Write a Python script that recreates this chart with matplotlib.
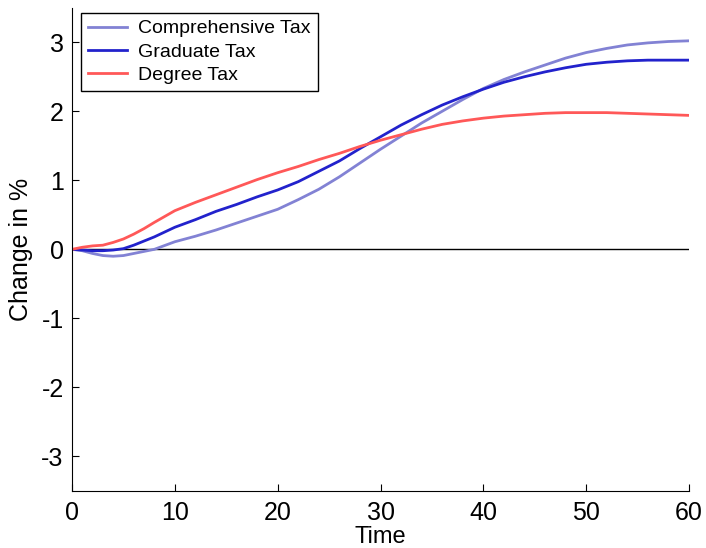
import matplotlib
matplotlib.use('Agg')
import matplotlib.pyplot as plt

plt.rcParams['font.family'] = ['Liberation Sans', 'DejaVu Sans']
plt.rcParams['axes.unicode_minus'] = False

# time axis and the three series (change in %)
t = [0, 1, 2, 3, 4, 5, 6, 7, 8, 10, 12, 14, 16, 18, 20, 22, 24, 26, 28, 30,
     32, 34, 36, 38, 40, 42, 44, 46, 48, 50, 52, 54, 56, 58, 60]

comprehensive = [0.0, -0.02, -0.06, -0.09, -0.10, -0.09, -0.06, -0.03, 0.0,
                 0.11, 0.19, 0.28, 0.38, 0.48, 0.58, 0.72, 0.87, 1.05, 1.25,
                 1.45, 1.64, 1.83, 2.00, 2.17, 2.33, 2.46, 2.57, 2.67, 2.77,
                 2.85, 2.91, 2.96, 2.99, 3.01, 3.02]

graduate = [0.0, -0.01, -0.02, -0.02, -0.01, 0.01, 0.06, 0.12, 0.18,
            0.32, 0.43, 0.55, 0.65, 0.76, 0.86, 0.98, 1.13, 1.28, 1.46,
            1.63, 1.80, 1.95, 2.09, 2.21, 2.32, 2.42, 2.50, 2.57, 2.63,
            2.68, 2.71, 2.73, 2.74, 2.74, 2.74]

degree = [0.0, 0.03, 0.05, 0.06, 0.10, 0.15, 0.22, 0.30, 0.39,
          0.56, 0.68, 0.79, 0.90, 1.01, 1.11, 1.20, 1.30, 1.39, 1.49,
          1.58, 1.66, 1.74, 1.81, 1.86, 1.90, 1.93, 1.95, 1.97, 1.98,
          1.98, 1.98, 1.97, 1.96, 1.95, 1.94]

labels = ['Comprehensive Tax', 'Graduate Tax', 'Degree Tax']
yticks = [-3, -2, -1, 0, 1, 2, 3]
xticks = [0, 10, 20, 30, 40, 50, 60]

fig = plt.figure(figsize=(7.06, 5.48), dpi=100)
ax = fig.add_axes([0.102, 0.104, 0.874, 0.882])

ax.axhline(0, color='k', lw=1, zorder=1)
ax.plot(t, comprehensive, color='#8282d4', lw=2, label=labels[0])
ax.plot(t, graduate, color='#2222cc', lw=2, label=labels[1])
ax.plot(t, degree, color='#ff5858', lw=2, label=labels[2])

ax.set_xlim(0, 60)
ax.set_ylim(-3.5, 3.5)
ax.set_xticks(xticks)
ax.set_yticks(yticks)
ax.tick_params(direction='in', length=5, width=0.8, labelsize=18)
ax.tick_params(axis='x', pad=7)
ax.tick_params(axis='y', pad=6)
ax.spines['top'].set_visible(False)
ax.spines['right'].set_visible(False)
ax.set_xlabel('Time', fontsize=17, labelpad=1)
ax.set_ylabel('Change in %', fontsize=18, labelpad=6)

leg = ax.legend(loc='upper left', bbox_to_anchor=(81 / 706, 1 - 13 / 548),
                bbox_transform=fig.transFigure, borderaxespad=0,
                fontsize=14, fancybox=False, framealpha=1, edgecolor='k',
                handlelength=2.0, handletextpad=0.6, labelspacing=0.3,
                borderpad=0.35)
leg.get_frame().set_linewidth(1)

fig.savefig('out.png', dpi=100)
